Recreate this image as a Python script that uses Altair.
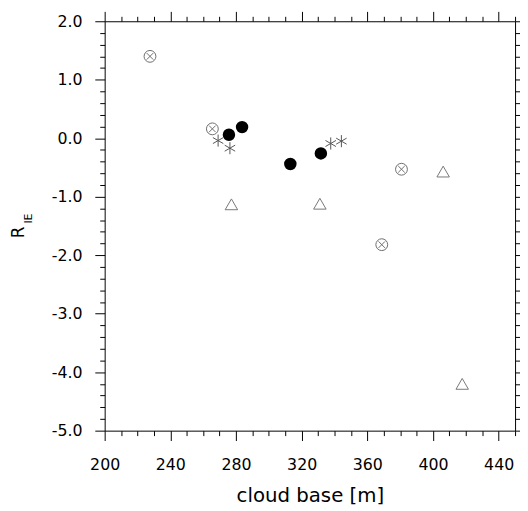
import altair as alt
import pandas as pd

# ---- data ----
cx_x = [227.6, 265.6, 380.8, 368.8]      # circled-X markers
cx_y = [1.40, 0.16, -0.53, -1.82]
dot_x = [275.7, 283.7, 313.1, 331.7]     # filled black circles
dot_y = [0.06, 0.19, -0.44, -0.26]
ast_x = [269.1, 276.3, 337.7, 344.2]     # asterisks
ast_y = [-0.04, -0.17, -0.09, -0.05]
tri_x = [277.2, 331.1, 406.2, 417.8]     # open triangles
tri_y = [-1.13, -1.12, -0.57, -4.20]

x_ticks = list(range(200, 451, 10))
y_ticks = [round(-5 + 0.2 * i, 1) for i in range(36)]

FONT = "DejaVu Sans"

xs = alt.Scale(domain=[200, 450], nice=False, zero=False)
ys = alt.Scale(domain=[-5, 2], nice=False, zero=False)

x_major = "datum.value % 40 === 0"
y_major = "abs(datum.value - round(datum.value)) < 0.01"

common = dict(grid=False, domainColor="black", domainWidth=1, tickColor="black",
              tickWidth=1, labelColor="black", labelFont=FONT, labelFontSize=16,
              titleFont=FONT, titleColor="black", titleFontWeight="normal",
              labelOverlap=False, labelBound=False, labelFlush=False)

x_bottom = alt.Axis(orient="bottom", values=x_ticks,
                    tickSize={"condition": {"test": x_major, "value": 10}, "value": 5},
                    labelExpr=f"{x_major} ? format(datum.value, 'd') : ''",
                    labelPadding=16, title="cloud base [m]", titleFontSize=20,
                    titlePadding=14, **common)
y_left = alt.Axis(orient="left", values=y_ticks,
                  tickSize={"condition": {"test": y_major, "value": 10}, "value": 5},
                  labelExpr=f"{y_major} ? (datum.value < -0.01 ? '-' : '') + format(abs(datum.value), '.1f') : ''",
                  labelPadding=13, title=None, **common)
x_top = alt.Axis(orient="top", values=x_ticks,
                 tickSize={"condition": {"test": x_major, "value": 10}, "value": 5},
                 labels=False, title=None, **common)
y_right = alt.Axis(orient="right", values=y_ticks,
                   tickSize={"condition": {"test": y_major, "value": 10}, "value": 5},
                   labels=False, title=None, **common)

circled_x = ("M-1,0A1,1,0,1,1,1,0A1,1,0,1,1,-1,0Z"
             "M-0.55,-0.55L0.55,0.55M-0.55,0.55L0.55,-0.55")
asterisk = "M0,-1L0,1M-0.866,-0.5L0.866,0.5M-0.866,0.5L0.866,-0.5"

df_cx = pd.DataFrame({"x": cx_x, "y": cx_y})
df_dot = pd.DataFrame({"x": dot_x, "y": dot_y})
df_ast = pd.DataFrame({"x": ast_x, "y": ast_y})
df_tri = pd.DataFrame({"x": tri_x, "y": tri_y})

dots = alt.Chart(df_dot).mark_point(shape="circle", filled=True, color="black",
                                    size=160, opacity=1).encode(
    x=alt.X("x:Q", scale=xs, axis=x_bottom),
    y=alt.Y("y:Q", scale=ys, axis=y_left))

cxs = alt.Chart(df_cx).mark_point(shape=circled_x, filled=False, color="#6e6e6e",
                                  strokeWidth=1, size=144, opacity=1).encode(
    x=alt.X("x:Q", scale=xs, axis=None),
    y=alt.Y("y:Q", scale=ys, axis=None))

asts = alt.Chart(df_ast).mark_point(shape=asterisk, filled=False, color="#555555",
                                    strokeWidth=1, size=150, opacity=1).encode(
    x=alt.X("x:Q", scale=xs, axis=None),
    y=alt.Y("y:Q", scale=ys, axis=None))

tris = alt.Chart(df_tri).mark_point(shape="triangle-up", filled=False, color="#777777",
                                    strokeWidth=1, size=160, opacity=1).encode(
    x=alt.X("x:Q", scale=xs, axis=x_top),
    y=alt.Y("y:Q", scale=ys, axis=y_right))

title_r = alt.Chart(pd.DataFrame({"t": ["R"]})).mark_text(
    text="R", angle=270, font=FONT, fontSize=17, color="black",
    align="center", baseline="alphabetic").encode(
    x=alt.value(-82), y=alt.value(214))
title_sub = alt.Chart(pd.DataFrame({"t": ["IE"]})).mark_text(
    text="IE", angle=270, font=FONT, fontSize=11, color="black",
    align="center", baseline="alphabetic").encode(
    x=alt.value(-74), y=alt.value(200))

chart = alt.layer(dots, cxs, asts, tris, title_r, title_sub).resolve_axis(
    x="independent", y="independent"
).properties(
    width=416, height=415,
    padding={"left": 98, "top": 10, "right": 5, "bottom": 78},
    autosize=alt.AutoSizeParams(type="none"),
).configure_view(stroke=None)

chart.save("out.html", embed_options={"renderer": "svg", "actions": False})
